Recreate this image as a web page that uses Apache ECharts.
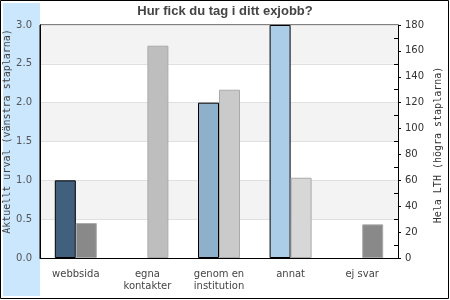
<!DOCTYPE html>
<html>
<head>
<meta charset="utf-8">
<script src="https://cdn.jsdelivr.net/npm/echarts@6/dist/echarts.min.js"></script>
<style>
  html, body { margin: 0; padding: 0; background: #fff; }
  #chart { width: 450px; height: 300px; }
</style>
</head>
<body>
<div id="chart"></div>
<script>
// ---- data ----
const categories = ['webbsida', 'egna\nkontakter', 'genom en\ninstitution', 'annat', 'ej svar'];
const urvalValues = [1.0, 0, 2.0, 3.0, 0];        // Aktuellt urval (left axis)
const lthValues = [27, 164, 130, 62, 26];         // Hela LTH (right axis)
const leftTicks = { min: 0, max: 3, interval: 0.5 };
const rightTicks = { min: 0, max: 180, interval: 20 };
const titleText = 'Hur fick du tag i ditt exjobb?';
const leftName = 'Aktuellt urval (vänstra staplarna)';
const rightName = 'Hela LTH (högra staplarna)';

// ---- styles ----
const urvalColors = ['#41607e', '#41607e', '#8fb0cb', '#abcde8', '#41607e'];
const lthColors = ['#898989', '#bebebe', '#cacaca', '#d7d7d7', '#898989'];
const labelFont = 'DejaVu Sans';
const monoFont = 'DejaVu Sans Mono';

const chart = echarts.init(document.getElementById('chart'), null, { renderer: 'canvas' });

const option = {
  animation: false,
  backgroundColor: '#ffffff',
  title: {
    text: titleText,
    left: 'center',
    top: 0,
    padding: 5,
    textStyle: { fontFamily: 'Liberation Sans', fontWeight: 'bold', fontSize: 13, color: '#444' }
  },
  graphic: [
    { type: 'rect', z: -10, silent: true,
      shape: { x: 0.5, y: 0.5, width: 448, height: 298 },
      style: { fill: '#ffffff', stroke: '#000', lineWidth: 1 } },
    { type: 'rect', z: -9, silent: true,
      shape: { x: 3, y: 3, width: 37, height: 293 },
      style: { fill: '#cbe7fd' } },
    { type: 'text', z: 10, silent: true,
      x: 7, y: 131.5, rotation: Math.PI / 2,
      style: { text: leftName, font: '10px "' + monoFont + '"', fill: '#444', align: 'center', verticalAlign: 'middle' } },
    { type: 'text', z: 10, silent: true,
      x: 438, y: 145, rotation: Math.PI / 2,
      style: { text: rightName, font: '10px "' + monoFont + '"', fill: '#333', align: 'center', verticalAlign: 'middle' } }
  ],
  grid: {
    left: 40, right: 52, top: 25, bottom: 42,
    show: true, borderColor: '#000', borderWidth: 1, backgroundColor: 'transparent'
  },
  xAxis: {
    type: 'category',
    data: categories,
    axisLine: { show: true, lineStyle: { color: '#000', width: 1 } },
    axisTick: { show: false },
    axisLabel: { margin: 10, fontFamily: labelFont, fontSize: 10, color: '#444', lineHeight: 12, interval: 0 },
    splitLine: { show: false }
  },
  yAxis: [
    {
      type: 'value', position: 'left',
      min: leftTicks.min, max: leftTicks.max, interval: leftTicks.interval,
      axisLine: { show: true, lineStyle: { color: '#000' } },
      axisTick: { show: false },
      axisLabel: { margin: 8, fontFamily: labelFont, fontSize: 10, color: '#555',
        formatter: v => v.toFixed(1) },
      splitLine: { show: true, lineStyle: { color: '#e0e0e0', width: 1 } },
      splitArea: { show: true, areaStyle: { color: ['#ffffff', '#f3f3f3'] } }
    },
    {
      type: 'value', position: 'right',
      min: rightTicks.min, max: rightTicks.max, interval: rightTicks.interval,
      axisLine: { show: true, lineStyle: { color: '#000' } },
      axisTick: { show: true, inside: false, length: 3, lineStyle: { color: '#000' } },
      axisLabel: { margin: 7, fontFamily: labelFont, fontSize: 10, color: '#333' },
      splitLine: { show: false }
    },
    {
      type: 'value', position: 'right',
      min: rightTicks.min, max: rightTicks.max, interval: rightTicks.interval,
      axisLine: { show: false },
      axisTick: { show: false, inside: true },
      minorTick: { show: true, splitNumber: 2, length: 4, lineStyle: { color: '#000' } },
      axisLabel: { show: false },
      splitLine: { show: false }
    }
  ],
  series: [
    {
      name: leftName, type: 'bar', yAxisIndex: 0,
      barWidth: 21, barGap: '0%',
      data: urvalValues.map((v, i) => ({
        value: v,
        itemStyle: { color: urvalColors[i], borderColor: '#000', borderWidth: v === 0 ? 0 : 1 }
      }))
    },
    {
      name: rightName, type: 'bar', yAxisIndex: 1,
      barWidth: 21, barGap: '0%',
      data: lthValues.map((v, i) => ({
        value: v,
        itemStyle: { color: lthColors[i], borderColor: '#aaaaaa', borderWidth: 1 }
      }))
    }
  ]
};

chart.setOption(option);
</script>
</body>
</html>
